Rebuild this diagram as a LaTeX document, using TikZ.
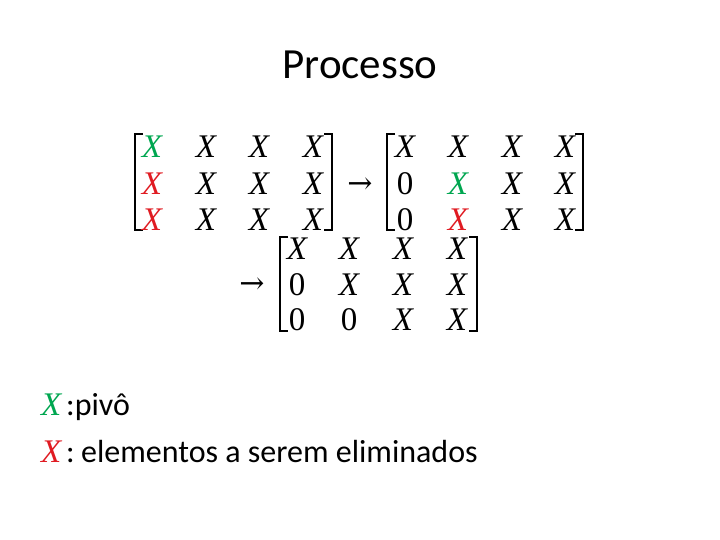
\documentclass[tikz,border=0pt]{standalone}
\usepackage{fontspec}
\setmainfont{Carlito}
\newfontfamily\mathserif{Liberation Serif}
\newfontfamily\arrowfont{DejaVu Serif}
\definecolor{pivgreen}{HTML}{00A650}
\definecolor{elimred}{HTML}{E01B22}
\tikzset{
  ent/.style={inner sep=0pt, anchor=center, text height=21pt, text depth=0pt, font=\mathserif\itshape\fontsize{33}{33}\selectfont},
  zer/.style={inner sep=0pt, anchor=center, text height=21pt, text depth=0pt, font=\mathserif\fontsize{33}{33}\selectfont},
  brk/.style={line width=1.8pt},
  arr/.style={inner sep=0pt, anchor=center, text height=19pt, text depth=0pt, font=\arrowfont\fontsize{30}{30}\selectfont},
  leg/.style={inner sep=0pt, anchor=base west, font=\fontsize{32}{32}\selectfont},
  legx/.style={inner sep=0pt, anchor=base west, font=\mathserif\itshape\fontsize{33}{33}\selectfont},
}
\newcommand{\lbrk}[3]{\draw[brk] (#1+8,#2) -- (#1,#2) -- (#1,#3) -- (#1+8,#3);}
\newcommand{\rbrk}[3]{\draw[brk] (#1-8,#2) -- (#1,#2) -- (#1,#3) -- (#1-8,#3);}
\begin{document}
\begin{tikzpicture}[x=1pt,y=-1pt]
\useasboundingbox (0,0) rectangle (720,540);
\node[inner sep=0pt, anchor=base, font=\fontsize{43}{43}\selectfont] (title) at (360,79) {Processo};
% matrix 1
\lbrk{135}{134}{230}
\rbrk{332}{134}{230}
\foreach \r/\y in {1/147,2/184,3/220}{
  \foreach \c/\x in {2/206,3/259,4/313}{
    \node[ent] (a\r\c) at (\x,\y) {X};
  }
}
\node[ent, text=pivgreen] (a11) at (152,147) {X};
\node[ent, text=elimred] (a21) at (152,184) {X};
\node[ent, text=elimred] (a31) at (152,220) {X};
\node[arr] (ar1) at (360,184) {→};
% matrix 2
\lbrk{387}{134}{230}
\rbrk{583}{134}{230}
\foreach \c/\x in {1/405,2/458,3/512,4/565}{ \node[ent] (b1\c) at (\x,147) {X}; }
\node[zer] (b21) at (405,184) {0};
\node[ent, text=pivgreen] (b22) at (458,184) {X};
\node[ent] (b23) at (512,184) {X};
\node[ent] (b24) at (565,184) {X};
\node[zer] (b31) at (405,220) {0};
\node[ent, text=elimred] (b32) at (458,220) {X};
\node[ent] (b33) at (512,220) {X};
\node[ent] (b34) at (565,220) {X};
% matrix 3
\node[arr] (ar2) at (252,284) {→};
\lbrk{280}{237}{331}
\rbrk{477}{237}{331}
\foreach \c/\x in {1/297,2/349,3/403,4/457}{ \node[ent] (c1\c) at (\x,249) {X}; }
\node[zer] (c21) at (297,285) {0};
\node[ent] (c22) at (349,285) {X};
\node[ent] (c23) at (403,285) {X};
\node[ent] (c24) at (457,285) {X};
\node[zer] (c31) at (297,320) {0};
\node[zer] (c32) at (349,320) {0};
\node[ent] (c33) at (403,320) {X};
\node[ent] (c34) at (457,320) {X};
% legend
\node[legx, text=pivgreen] (x1) at (41,415) {X};
\node[leg] (l1) at (66,415) {:pivô};
\node[legx, text=elimred] (x2) at (41,462) {X};
\node[leg] (l2) at (66,462) {:\hspace{0.2em}elementos a serem eliminados};
\end{tikzpicture}
\end{document}
